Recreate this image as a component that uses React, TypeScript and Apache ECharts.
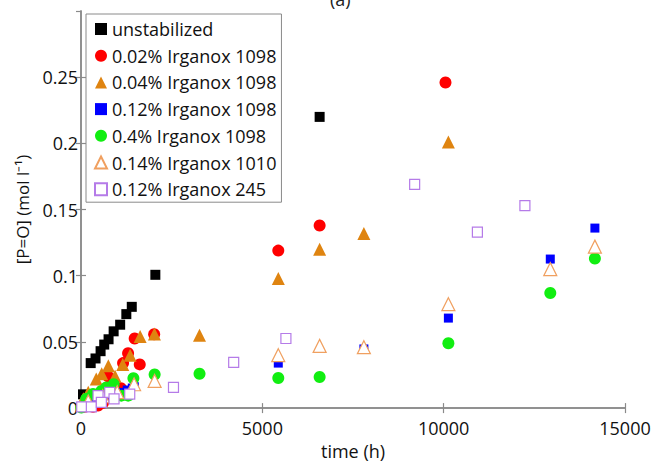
import React, { useEffect, useRef } from "react";
import * as echarts from "echarts";

const seriesNames = [
  "unstabilized",
  "0.02% Irganox 1098",
  "0.04% Irganox 1098",
  "0.12% Irganox 1098",
  "0.4% Irganox 1098",
  "0.14% Irganox 1010",
  "0.12% Irganox 245",
];

const unstabilized = [
  [55, 0.0104], [110, 0.0094], [267, 0.034], [400, 0.0375], [540, 0.043], [640, 0.048],
  [760, 0.052], [900, 0.058], [1080, 0.063], [1250, 0.071], [1400, 0.0765],
  [2050, 0.1007], [6580, 0.22],
];
const irg1098_002 = [
  [100, 0.001], [331, 0.001], [470, 0.002], [608, 0.004], [750, 0.008], [900, 0.012],
  [1100, 0.015], [746, 0.024], [1160, 0.034], [1298, 0.0415], [1480, 0.0526],
  [1620, 0.033], [2017, 0.0558], [5440, 0.119], [6580, 0.138], [10050, 0.246],
];
const irg1098_004 = [
  [64, 0.007], [200, 0.012], [420, 0.022], [571, 0.026], [754, 0.032], [939, 0.024],
  [1152, 0.033], [1354, 0.04], [1630, 0.054], [2025, 0.056], [3268, 0.055],
  [5440, 0.098], [6580, 0.12], [7800, 0.132], [10130, 0.201],
];
const irg1098_012 = [
  [83, 0.001], [221, 0.0044], [359, 0.0057], [497, 0.0069], [681, 0.0081], [820, 0.0099],
  [958, 0.0119], [1097, 0.013], [1234, 0.0148], [1373, 0.0163], [1511, 0.0173],
  [5440, 0.034], [7800, 0.0447], [10130, 0.068], [12940, 0.1126], [14170, 0.136],
];
const irg1098_04 = [
  [8, 0.0005], [146, 0.007], [331, 0.0106], [561, 0.013], [699, 0.0156], [900, 0.018],
  [1113, 0.0094], [1300, 0.0094], [1445, 0.0225], [2030, 0.0254], [3268, 0.026],
  [5440, 0.0227], [6580, 0.0235], [10130, 0.049], [12940, 0.087], [14170, 0.113],
];
const irg1010_014 = [
  [200, 0.005], [600, 0.009], [1000, 0.012], [1464, 0.018], [2030, 0.0205],
  [5440, 0.04], [6580, 0.047], [7800, 0.046], [10130, 0.0785], [12940, 0.105], [14170, 0.122],
];
const irg245_012 = [
  [20, 0.001], [285, 0.001], [470, 0.0094], [561, 0.0044], [792, 0.0119], [911, 0.0069],
  [1344, 0.0106], [2550, 0.0156], [4210, 0.0346], [5650, 0.0526], [9200, 0.169],
  [10930, 0.133], [12240, 0.153],
];

const xTicks = { min: 0, max: 15000, interval: 5000 };
const yTicks = { min: 0, max: 0.3, interval: 0.05 };

const FONT = "Open Sans";
const AXIS_COLOR = "#8a8a8a";

export default function App() {
  const ref = useRef<HTMLDivElement>(null);
  useEffect(() => {
    if (!ref.current) return;
    const chart = echarts.init(ref.current, undefined, { renderer: "svg" });
    const axisCommon = {
      axisLine: { show: true, lineStyle: { color: AXIS_COLOR, width: 1.5 } },
      axisTick: { show: true, inside: true, length: 5, lineStyle: { color: AXIS_COLOR, width: 1.2 } },
      splitLine: { show: false },
    };
    const mk = (name: string, data: number[][], symbol: string, size: any, itemStyle: any) => ({
      name,
      type: "scatter",
      data,
      symbol,
      symbolSize: size,
      itemStyle: { opacity: 1, ...itemStyle },
      emphasis: { disabled: true },
    });
    chart.setOption({
      animation: false,
      textStyle: { fontFamily: FONT },
      graphic: [
        {
          type: "text",
          left: 330,
          top: -10,
          style: { text: "(a)", font: `18px '${FONT}'`, fill: "#222" },
        },
      ],
      grid: { left: 81, right: 43, top: 11, bottom: 48 },
      legend: {
        orient: "vertical",
        left: 86,
        top: 14,
        itemWidth: 12,
        itemHeight: 12,
        itemGap: 6.7,
        padding: [5, 5, 3, 8],
        borderColor: "#8a8a8a",
        borderWidth: 1,
        backgroundColor: "#fff",
        textStyle: { fontFamily: FONT, fontSize: 18, color: "#111", lineHeight: 20 },
        data: seriesNames,
      },
      xAxis: [
        {
          type: "value",
          ...xTicks,
          position: "bottom",
          ...axisCommon,
          axisLabel: {
            fontFamily: FONT,
            fontSize: 18,
            color: "#111",
            margin: 11,
            formatter: (v: number) => String(v),
          },
          name: "time (h)",
          nameLocation: "middle",
          nameGap: 30,
          nameTextStyle: { fontFamily: FONT, fontSize: 18, color: "#111" },
        },
        {
          type: "value",
          ...xTicks,
          position: "top",
          ...axisCommon,
          axisLabel: { show: false },
        },
      ],
      yAxis: [
        {
          type: "value",
          ...yTicks,
          position: "left",
          ...axisCommon,
          axisLabel: {
            fontFamily: FONT,
            fontSize: 18,
            color: "#111",
            margin: 3,
            showMaxLabel: false,
            formatter: (v: number) => String(Math.round(v * 100) / 100),
          },
          name: "[P=O] (mol l⁻¹)",
          nameLocation: "middle",
          nameGap: 37,
          nameTextStyle: { fontFamily: FONT, fontSize: 17, color: "#111" },
        },
        {
          type: "value",
          ...yTicks,
          position: "right",
          ...axisCommon,
          axisLabel: { show: false },
        },
      ],
      series: [
        mk(seriesNames[0], unstabilized, "rect", 10, { color: "#000" }),
        mk(seriesNames[1], irg1098_002, "circle", 12, { color: "#ff0000" }),
        mk(seriesNames[2], irg1098_004, "triangle", 13, { color: "#df8410" }),
        mk(seriesNames[3], irg1098_012, "rect", (v: number[]) => (v[0] < 3000 ? 6 : 9), { color: "#0000ff" }),
        mk(seriesNames[4], irg1098_04, "circle", 12, { color: "#11ee11" }),
        mk(seriesNames[5], irg1010_014, "triangle", 13, {
          color: "#fff",
          borderColor: "#f0a060",
          borderWidth: 1.2,
        }),
        mk(seriesNames[6], irg245_012, "rect", 10, {
          color: "#fff",
          borderColor: "#b57be8",
          borderWidth: 1.2,
        }),
      ],
    });
    return () => chart.dispose();
  }, []);
  return (
    <div
      ref={ref}
      style={{ position: "fixed", left: 0, top: 0, width: 668, height: 465, background: "#fff" }}
    />
  );
}
